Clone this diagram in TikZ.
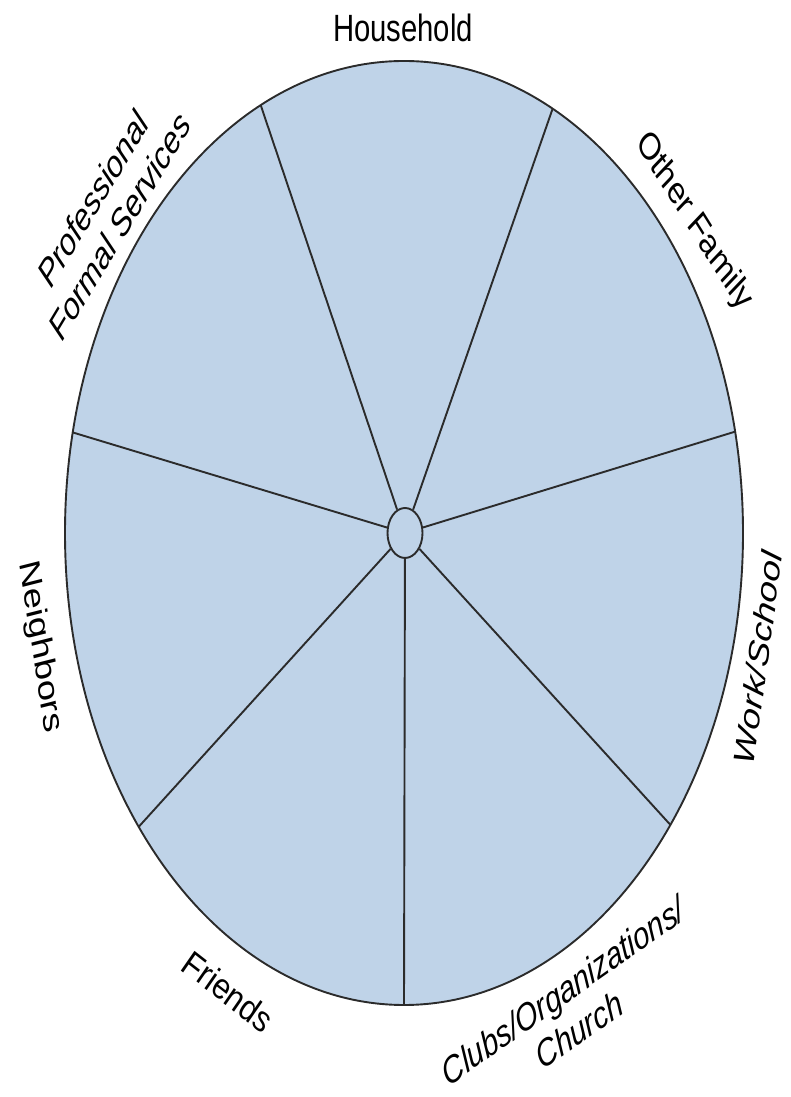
\documentclass[tikz,border=0pt]{standalone}
\usepackage{fontspec}
\setmainfont{Liberation Sans}
\usepackage{xcolor}
\usepackage{tikz}
\usetikzlibrary{shapes.geometric}
\definecolor{trait}{HTML}{2B2B2B}
\definecolor{secteur}{HTML}{BFD3E8}
\tikzset{
  roue/.style={ellipse, draw=trait, fill=secteur, line width=1.9pt, inner sep=0pt},
  rayon/.style={line width=1.9pt, color=trait},
  libelle/.style={font=\fontsize{38}{44}\selectfont, text=black, align=center,
    inner sep=0pt, xscale=0.77},
  libelleit/.style={libelle, font=\fontsize{38}{44}\selectfont\itshape}
}

\begin{document}
\begin{tikzpicture}[x=1pt, y=1pt]
  \useasboundingbox (0,0) rectangle (790,1097);
  \node[roue, minimum width=678pt, minimum height=944pt] (grand) at (404,564) {};
  \node[roue, minimum width=35pt, minimum height=50pt] (moyeu) at (405,564) {};
  \foreach \a/\n in {115/a, 64/b, 12.4/c, -38.2/d, -90/e, -141.5/f, 167.7/g} {
    \path (grand.center) ++(\a:339 and 472) coordinate (\n);
    \draw[rayon] (moyeu) -- (\n);
  }

  \node[libelle] (foyer) at (403,1069) {Household};
  \node[libelleit, rotate=52] (pros) at (106,885) {Professional\\Formal Services};
  \node[libelle, rotate=-51] (famille) at (694,875) {Other Family};
  \node[libelle, rotate=-79] (voisins) at (40,450) {Neighbors};
  \node[libelleit, rotate=80] (travail) at (758,439) {Work/School};
  \node[libelleit, rotate=-31] (amis) at (228,106) {Friends};
  \node[libelleit, rotate=28.6] (clubs) at (571,87) {Clubs/Organizations/\\Church};
\end{tikzpicture}
\end{document}
